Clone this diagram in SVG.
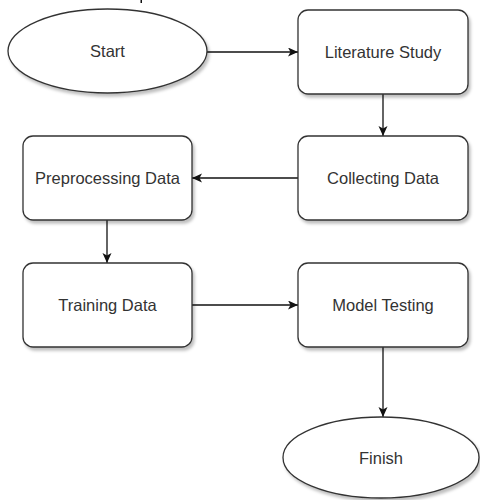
<svg xmlns="http://www.w3.org/2000/svg" width="480" height="500" viewBox="0 0 480 500">
  <style>
    .shape { fill: #ffffff; stroke: #333333; stroke-width: 1.3; filter: url(#shadow); }
    .label { font-family: "Liberation Sans", Arial, sans-serif; font-size: 16.5px; fill: #333333; text-anchor: middle; }
    .edge { fill: none; stroke: #111111; stroke-width: 1.3; marker-end: url(#arrow); }
  </style>
  <defs>
    <filter id="shadow" x="-10%" y="-10%" width="130%" height="140%">
      <feDropShadow dx="2" dy="3" stdDeviation="1.6" flood-color="#000000" flood-opacity="0.25"/>
    </filter>
    <marker id="arrow" markerUnits="userSpaceOnUse" markerWidth="12" markerHeight="10" refX="10" refY="4.5" orient="auto">
      <path d="M0,0 L10,4.5 L0,9 L2.5,4.5 Z" fill="#111111"/>
    </marker>
  </defs>
  <rect x="140.5" y="0" width="1.5" height="3" fill="#111111"/>
  <g id="connectors">
    <line class="edge" x1="207" y1="52" x2="298" y2="52"/>
    <line class="edge" x1="383" y1="94" x2="383" y2="136"/>
    <line class="edge" x1="298" y1="178" x2="192" y2="178"/>
    <line class="edge" x1="107" y1="220" x2="107" y2="263"/>
    <line class="edge" x1="192" y1="305" x2="298" y2="305"/>
    <line class="edge" x1="383" y1="347" x2="383" y2="417"/>
  </g>
  <g id="start">
    <ellipse class="shape" cx="107.5" cy="51" rx="99.5" ry="42"/>
    <text class="label" x="107.5" y="57">Start</text>
  </g>
  <g id="literature-study">
    <rect class="shape" x="298" y="10" width="170" height="84" rx="10" ry="10"/>
    <text class="label" x="383" y="58">Literature Study</text>
  </g>
  <g id="collecting-data">
    <rect class="shape" x="298" y="136" width="170" height="84" rx="10" ry="10"/>
    <text class="label" x="383" y="184">Collecting Data</text>
  </g>
  <g id="preprocessing-data">
    <rect class="shape" x="23" y="136" width="169" height="84" rx="10" ry="10"/>
    <text class="label" x="107.5" y="184">Preprocessing Data</text>
  </g>
  <g id="training-data">
    <rect class="shape" x="23" y="263" width="169" height="84" rx="10" ry="10"/>
    <text class="label" x="107.5" y="311">Training Data</text>
  </g>
  <g id="model-testing">
    <rect class="shape" x="298" y="263" width="170" height="84" rx="10" ry="10"/>
    <text class="label" x="383" y="311">Model Testing</text>
  </g>
  <g id="finish">
    <ellipse class="shape" cx="381" cy="457.5" rx="98" ry="40.5"/>
    <text class="label" x="381" y="463.5">Finish</text>
  </g>
</svg>
